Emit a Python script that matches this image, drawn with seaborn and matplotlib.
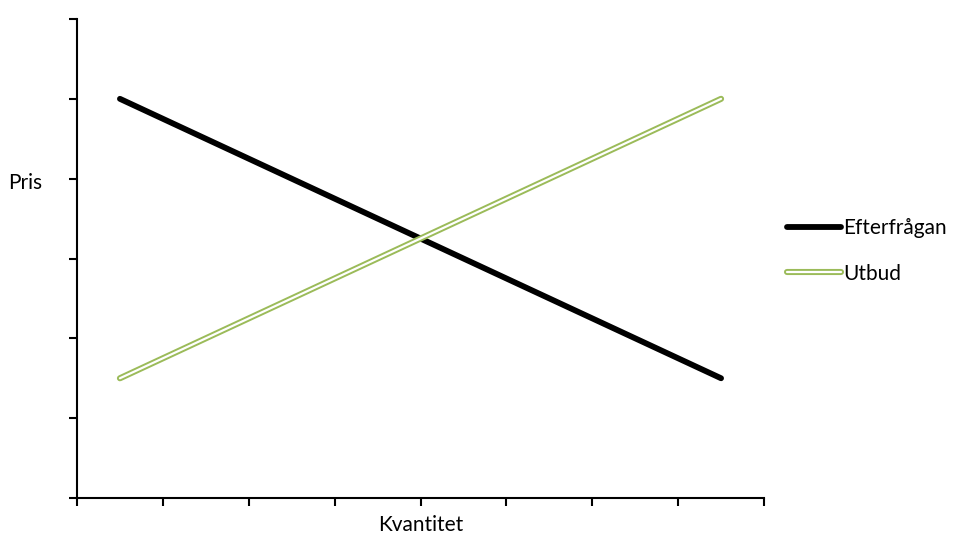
import matplotlib
matplotlib.use("Agg")
import matplotlib.pyplot as plt
import matplotlib.patheffects as pe
from matplotlib.lines import Line2D
import seaborn as sns
import pandas as pd

# Quantity steps along the x axis and price per step
kvantitet = [0, 1, 2, 3, 4, 5, 6, 7]
efterfragan = [10, 9, 8, 7, 6, 5, 4, 3]
utbud = [3, 4, 5, 6, 7, 8, 9, 10]
serier = ["Efterfrågan", "Utbud"]

sns.set_theme(style="white")
plt.rcParams["font.family"] = ["Lato", "DejaVu Sans"]
plt.rcParams["text.color"] = "black"

GREEN = "#9BBB59"
FS = 15

df = pd.DataFrame({
    "Kvantitet": kvantitet * 2,
    "Pris": efterfragan + utbud,
    "Serie": [serier[0]] * len(kvantitet) + [serier[1]] * len(kvantitet),
})

fig = plt.figure(figsize=(9.55, 5.38), dpi=100)
ax = fig.add_axes([77 / 955, 1 - 498 / 538, (764 - 77) / 955, (498 - 19) / 538])

sns.lineplot(data=df[df["Serie"] == serier[0]], x="Kvantitet", y="Pris",
             color="black", lw=4.2, ax=ax, legend=False,
             solid_capstyle="round")
sns.lineplot(data=df[df["Serie"] == serier[1]], x="Kvantitet", y="Pris",
             color="white", lw=1.6, ax=ax, legend=False,
             solid_capstyle="round")
green_line = ax.get_lines()[-1]
outline = [pe.Stroke(linewidth=4.4, foreground=GREEN, capstyle="round"), pe.Normal()]
green_line.set_path_effects(outline)

ax.set_xlim(-0.5, 7.5)
ax.set_ylim(0, 12)
ax.set_xticks([x - 0.5 for x in kvantitet] + [7.5])
ax.set_yticks(range(0, 13, 2))
ax.set_xticklabels([])
ax.set_yticklabels([])
ax.tick_params(axis="both", which="both", direction="out", length=6,
               width=1.5, color="black", bottom=True, left=True)

for side in ["top", "right"]:
    ax.spines[side].set_visible(False)
for side in ["left", "bottom"]:
    ax.spines[side].set_color("black")
    ax.spines[side].set_linewidth(1.5)

ax.set_xlabel("")
ax.set_ylabel("")
fig.text(421 / 955, 1 - 525 / 538, "Kvantitet", fontsize=FS, color="black",
         ha="center", va="center")
fig.text(8 / 955, 1 - 183 / 538, "Pris", fontsize=FS, color="black",
         ha="left", va="center")

handles = [
    Line2D([], [], color="black", lw=4.2, solid_capstyle="round"),
    Line2D([], [], color="white", lw=1.6, solid_capstyle="round",
           path_effects=outline),
]
fig.legend(handles, serier, loc="center left",
           bbox_to_anchor=(787 / 955, 1 - 251 / 538), frameon=False,
           fontsize=FS, handlelength=2.6, handletextpad=0.1,
           labelspacing=1.2, borderaxespad=0, borderpad=0,
           labelcolor="black")

fig.savefig("out.png", dpi=100)
